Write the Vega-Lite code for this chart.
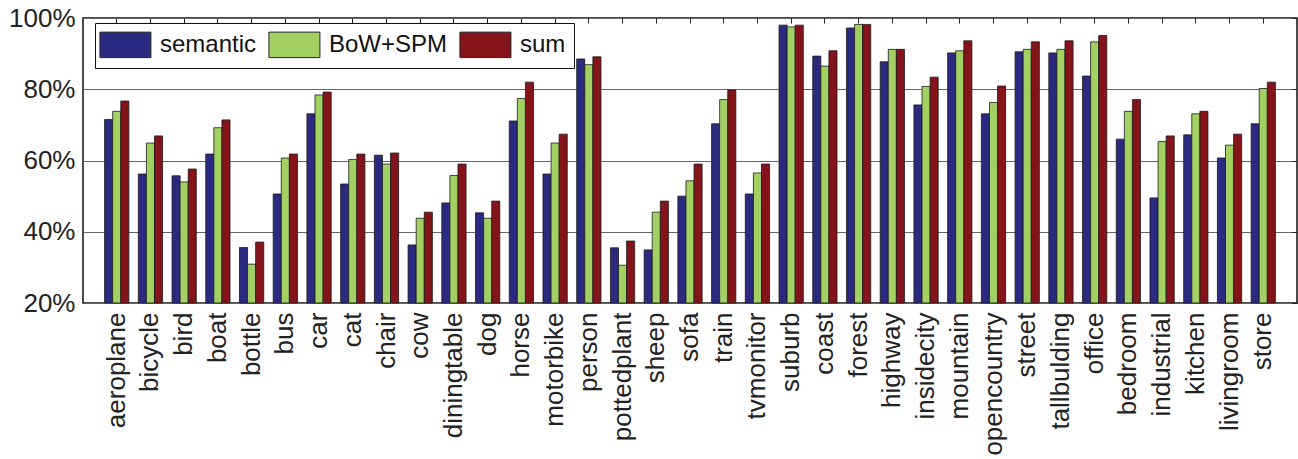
{
  "$schema": "https://vega.github.io/schema/vega-lite/v6.json",
  "autosize": {"type": "none"},
  "padding": {"left": 83, "top": 18, "right": 1, "bottom": 156},
  "width": 1214,
  "height": 285,
  "background": "white",
  "config": {
    "font": "Liberation Sans",
    "view": {"stroke": "#111", "strokeWidth": 1.5},
    "axis": {"labelFont": "Liberation Sans", "labelColor": "#222", "domain": false}
  },
  "data": {"values": [
    {"c":"aeroplane","m":"semantic","v":71.5},{"c":"aeroplane","m":"BoW+SPM","v":73.8},{"c":"aeroplane","m":"sum","v":76.7},
    {"c":"bicycle","m":"semantic","v":56.2},{"c":"bicycle","m":"BoW+SPM","v":64.9},{"c":"bicycle","m":"sum","v":66.9},
    {"c":"bird","m":"semantic","v":55.7},{"c":"bird","m":"BoW+SPM","v":54.0},{"c":"bird","m":"sum","v":57.6},
    {"c":"boat","m":"semantic","v":61.8},{"c":"boat","m":"BoW+SPM","v":69.2},{"c":"boat","m":"sum","v":71.4},
    {"c":"bottle","m":"semantic","v":35.6},{"c":"bottle","m":"BoW+SPM","v":30.9},{"c":"bottle","m":"sum","v":37.1},
    {"c":"bus","m":"semantic","v":50.6},{"c":"bus","m":"BoW+SPM","v":60.7},{"c":"bus","m":"sum","v":61.8},
    {"c":"car","m":"semantic","v":73.1},{"c":"car","m":"BoW+SPM","v":78.4},{"c":"car","m":"sum","v":79.2},
    {"c":"cat","m":"semantic","v":53.4},{"c":"cat","m":"BoW+SPM","v":60.3},{"c":"cat","m":"sum","v":61.8},
    {"c":"chair","m":"semantic","v":61.5},{"c":"chair","m":"BoW+SPM","v":59.0},{"c":"chair","m":"sum","v":62.1},
    {"c":"cow","m":"semantic","v":36.3},{"c":"cow","m":"BoW+SPM","v":43.8},{"c":"cow","m":"sum","v":45.5},
    {"c":"diningtable","m":"semantic","v":48.1},{"c":"diningtable","m":"BoW+SPM","v":55.8},{"c":"diningtable","m":"sum","v":59.0},
    {"c":"dog","m":"semantic","v":45.3},{"c":"dog","m":"BoW+SPM","v":43.8},{"c":"dog","m":"sum","v":48.6},
    {"c":"horse","m":"semantic","v":71.1},{"c":"horse","m":"BoW+SPM","v":77.4},{"c":"horse","m":"sum","v":82.0},
    {"c":"motorbike","m":"semantic","v":56.2},{"c":"motorbike","m":"BoW+SPM","v":64.9},{"c":"motorbike","m":"sum","v":67.4},
    {"c":"person","m":"semantic","v":88.5},{"c":"person","m":"BoW+SPM","v":86.9},{"c":"person","m":"sum","v":89.1},
    {"c":"pottedplant","m":"semantic","v":35.5},{"c":"pottedplant","m":"BoW+SPM","v":30.6},{"c":"pottedplant","m":"sum","v":37.4},
    {"c":"sheep","m":"semantic","v":34.9},{"c":"sheep","m":"BoW+SPM","v":45.5},{"c":"sheep","m":"sum","v":48.6},
    {"c":"sofa","m":"semantic","v":50.0},{"c":"sofa","m":"BoW+SPM","v":54.3},{"c":"sofa","m":"sum","v":59.0},
    {"c":"train","m":"semantic","v":70.3},{"c":"train","m":"BoW+SPM","v":77.1},{"c":"train","m":"sum","v":79.8},
    {"c":"tvmonitor","m":"semantic","v":50.6},{"c":"tvmonitor","m":"BoW+SPM","v":56.5},{"c":"tvmonitor","m":"sum","v":59.0},
    {"c":"suburb","m":"semantic","v":98.0},{"c":"suburb","m":"BoW+SPM","v":97.5},{"c":"suburb","m":"sum","v":98.0},
    {"c":"coast","m":"semantic","v":89.3},{"c":"coast","m":"BoW+SPM","v":86.5},{"c":"coast","m":"sum","v":90.8},
    {"c":"forest","m":"semantic","v":97.2},{"c":"forest","m":"BoW+SPM","v":98.2},{"c":"forest","m":"sum","v":98.2},
    {"c":"highway","m":"semantic","v":87.7},{"c":"highway","m":"BoW+SPM","v":91.2},{"c":"highway","m":"sum","v":91.2},
    {"c":"insidecity","m":"semantic","v":75.6},{"c":"insidecity","m":"BoW+SPM","v":80.8},{"c":"insidecity","m":"sum","v":83.4},
    {"c":"mountain","m":"semantic","v":90.2},{"c":"mountain","m":"BoW+SPM","v":90.8},{"c":"mountain","m":"sum","v":93.6},
    {"c":"opencountry","m":"semantic","v":73.1},{"c":"opencountry","m":"BoW+SPM","v":76.3},{"c":"opencountry","m":"sum","v":80.9},
    {"c":"street","m":"semantic","v":90.5},{"c":"street","m":"BoW+SPM","v":91.2},{"c":"street","m":"sum","v":93.3},
    {"c":"tallbulding","m":"semantic","v":90.2},{"c":"tallbulding","m":"BoW+SPM","v":91.2},{"c":"tallbulding","m":"sum","v":93.6},
    {"c":"office","m":"semantic","v":83.7},{"c":"office","m":"BoW+SPM","v":93.3},{"c":"office","m":"sum","v":95.1},
    {"c":"bedroom","m":"semantic","v":66.0},{"c":"bedroom","m":"BoW+SPM","v":73.8},{"c":"bedroom","m":"sum","v":77.1},
    {"c":"industrial","m":"semantic","v":49.5},{"c":"industrial","m":"BoW+SPM","v":65.3},{"c":"industrial","m":"sum","v":66.9},
    {"c":"kitchen","m":"semantic","v":67.2},{"c":"kitchen","m":"BoW+SPM","v":73.1},{"c":"kitchen","m":"sum","v":73.8},
    {"c":"livingroom","m":"semantic","v":60.7},{"c":"livingroom","m":"BoW+SPM","v":64.3},{"c":"livingroom","m":"sum","v":67.4},
    {"c":"store","m":"semantic","v":70.3},{"c":"store","m":"BoW+SPM","v":80.2},{"c":"store","m":"sum","v":82.0}
  ]},
  "layer": [
    {
      "mark": {"type": "bar", "stroke": "#1a1a1a", "strokeWidth": 0.8},
      "encoding": {
        "x": {"field": "c", "type": "nominal", "sort": null, "title": null,
              "scale": {"paddingInner": 0.28, "paddingOuter": 0.64},
              "axis": {"orient": "bottom", "labelAngle": -90, "labelFontSize": 26, "labelPadding": 9, "labelLimit": 400, "labelOverlap": false, "ticks": false, "grid": false}},
        "xOffset": {"field": "m", "type": "nominal", "sort": ["semantic", "BoW+SPM", "sum"], "scale": {"paddingInner": 0, "paddingOuter": 0}},
        "y": {"field": "v", "type": "quantitative", "title": null, "stack": null,
              "scale": {"domain": [20, 100], "nice": false, "zero": false},
              "axis": {"orient": "left", "values": [20, 40, 60, 80, 100], "labelExpr": "datum.value + '%'",
                       "labelFontSize": 26, "labelPadding": 8, "ticks": false, "grid": true, "gridColor": "#666", "gridOpacity": 1, "gridWidth": 1}},
        "y2": {"datum": 20},
        "color": {"field": "m", "type": "nominal", "sort": ["semantic", "BoW+SPM", "sum"],
                  "scale": {"domain": ["semantic", "BoW+SPM", "sum"], "range": ["#2b2a80", "#a3d063", "#84141a"]},
                  "legend": {"title": null, "orient": "none", "legendX": 12, "legendY": 5, "direction": "horizontal", "columns": 3,
                             "symbolType": "M-1.3,-1H2.7V1H-1.3Z", "symbolSize": 650, "symbolStrokeColor": "#222", "symbolStrokeWidth": 1,
                             "symbolOpacity": 1, "labelFontSize": 24, "labelColor": "#111", "labelOffset": 30, "columnPadding": 9,
                             "padding": 8, "strokeColor": "#111", "fillColor": "white", "labelFont": "Liberation Sans"}}
      }
    },
    {
      "mark": {"type": "point", "opacity": 0},
      "encoding": {
        "x": {"field": "c", "type": "nominal", "sort": null, "title": null,
              "axis": {"orient": "top", "labels": false, "ticks": true, "tickSize": -5, "tickColor": "#222", "grid": false}},
        "y": {"field": "v", "type": "quantitative", "title": null,
              "axis": {"orient": "right", "labels": false, "values": [20, 40, 60, 80, 100], "ticks": true, "tickSize": -5, "tickColor": "#222", "grid": false}}
      }
    }
  ],
  "resolve": {"axis": {"x": "independent", "y": "independent"}}
}
